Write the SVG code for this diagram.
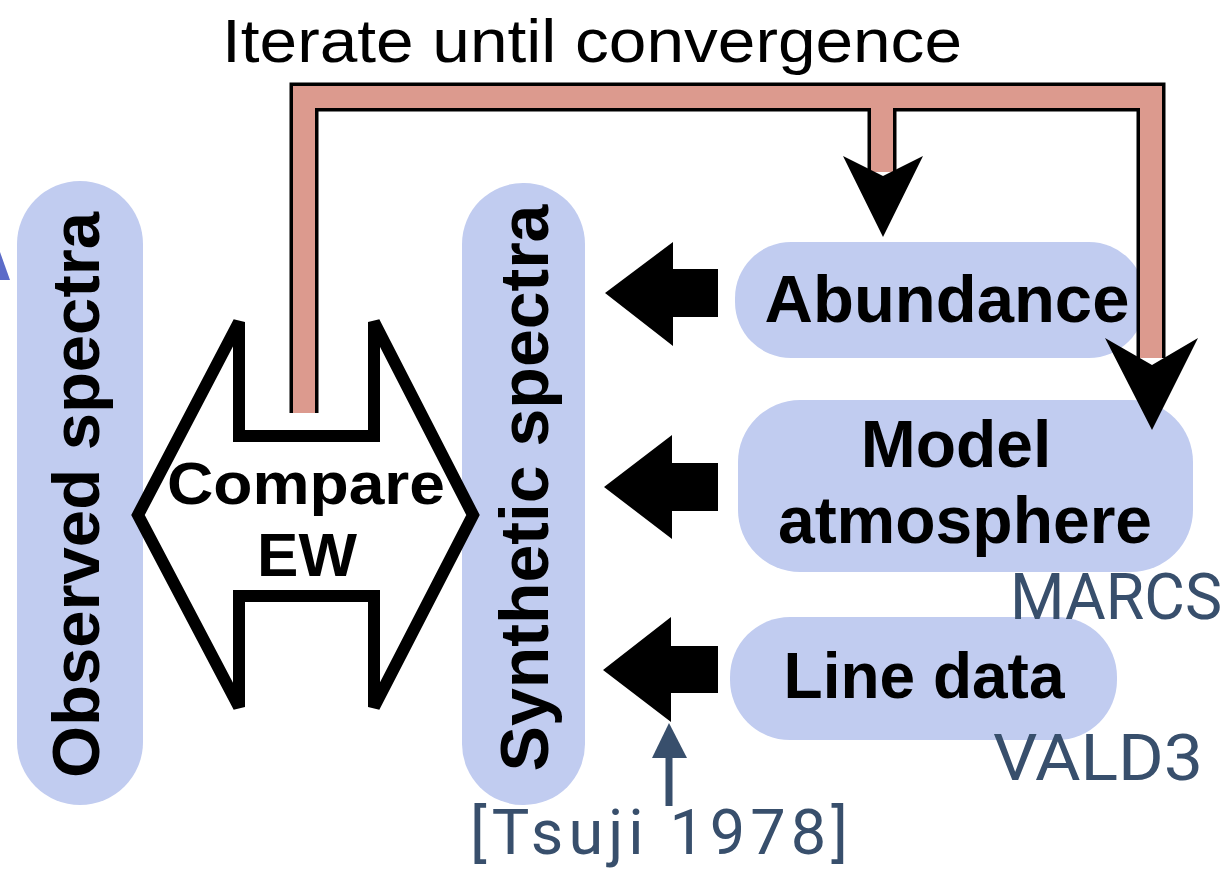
<svg xmlns="http://www.w3.org/2000/svg" width="1228" height="870" viewBox="0 0 1228 870">
<style>
.pill{fill:#c1ccf0}
.lbl{font-family:"Liberation Sans",Arial,sans-serif;font-weight:bold;fill:#000}
.note{font-family:Roboto,"Liberation Sans",sans-serif;fill:#384f6c}
.blk{fill:#000}
.loopb{fill:none;stroke:#000;stroke-width:29;stroke-linejoin:miter}
.loopp{fill:none;stroke:#dc9a8e;stroke-width:22;stroke-linejoin:miter}
</style>
<rect width="1228" height="870" fill="#fff"/>
<polygon points="0,252 10,280 0,280" fill="#5b6bc8"/>
<g id="observed">
<rect class="pill" x="17" y="181" width="126" height="624" rx="63"/>
<text class="lbl" font-size="67" text-anchor="middle" transform="translate(99,495) rotate(-90)">Observed spectra</text>
</g>
<g id="synthetic">
<rect class="pill" x="462" y="183" width="123" height="622" rx="61"/>
<text class="lbl" font-size="68" text-anchor="middle" transform="translate(548,488) rotate(-90)">Synthetic spectra</text>
</g>
<g id="abundance">
<rect class="pill" x="735" y="242" width="410" height="116" rx="56"/>
<text class="lbl" font-size="67" x="947" y="322" text-anchor="middle">Abundance</text>
</g>
<g id="model">
<rect class="pill" x="738" y="400" width="455" height="172" rx="62"/>
<text class="lbl" font-size="66" x="956" y="467" text-anchor="middle">Model</text>
<text class="lbl" font-size="66" x="965" y="543" text-anchor="middle">atmosphere</text>
</g>
<g id="linedata">
<rect class="pill" x="730" y="617" width="387" height="123" rx="60"/>
<text class="lbl" font-size="64" x="924" y="698" text-anchor="middle">Line data</text>
</g>
<g id="compare">
<polygon points="138,515 239,322 239,436 374,436 374,322 473,515 374,707 374,596 239,596 239,707" fill="#fff" stroke="#000" stroke-width="12" stroke-linejoin="miter"/>
<text class="lbl" font-size="60" x="306" y="504" text-anchor="middle" textLength="278" lengthAdjust="spacingAndGlyphs">Compare</text>
<text class="lbl" font-size="62" x="307" y="576" text-anchor="middle">EW</text>
</g>
<g id="connectors">
<path class="loopb" d="M304,413 V97 H1151 V358"/>
<path class="loopb" d="M882,97 V172"/>
<path class="loopp" d="M304,413 V97 H1151 V358"/>
<path class="loopp" d="M882,97 V172"/>
<polygon class="blk" points="843,156 883,176 923,156 883,237"/>
<polygon class="blk" points="1105,338 1152,365 1198,338 1152,430"/>
<polygon class="blk" points="605,293 673,242 673,269 718,269 718,317 673,317 673,346"/>
<polygon class="blk" points="604,487 672,435 672,463 718,463 718,511 672,511 672,539"/>
<polygon class="blk" points="603,670 671,617 671,646 718,646 718,693 671,693 671,722"/>
<line x1="669" y1="806" x2="669" y2="752" stroke="#384f6c" stroke-width="7"/>
<polygon points="652,758 669,723 687,758" fill="#384f6c"/>
</g>
<text x="592" y="62" font-family="'Liberation Sans',Arial,sans-serif" font-size="62" text-anchor="middle" textLength="740" lengthAdjust="spacingAndGlyphs" fill="#000">Iterate until convergence</text>
<text class="note" font-size="64" x="1010" y="619" textLength="212" lengthAdjust="spacingAndGlyphs">MARCS</text>
<text class="note" font-size="64" x="993" y="780" textLength="210" lengthAdjust="spacingAndGlyphs">VALD3</text>
<text class="note" font-size="63" x="470" y="854" textLength="378">[Tsuji 1978]</text>
</svg>
